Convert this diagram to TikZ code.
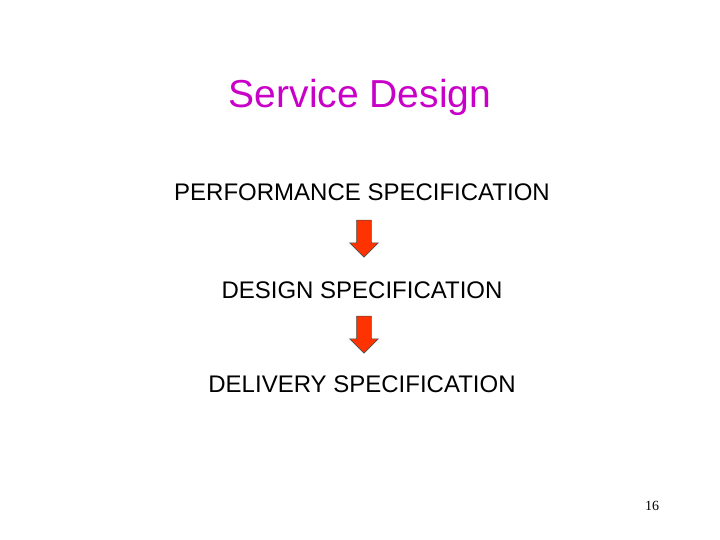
\documentclass[tikz,border=0pt]{standalone}
\usepackage{fontspec}
\setmainfont{Liberation Sans}
\newfontfamily\pagefont{Liberation Serif}
\usetikzlibrary{shapes.arrows}
\definecolor{titlepurple}{RGB}{200,0,200}
\definecolor{arrowred}{RGB}{255,51,0}

\begin{document}
\begin{tikzpicture}[x=1pt,y=-1pt]
        % Setup the styles for the texts and arrows
        \tikzset{spec style/.style={anchor=base, inner sep=0pt,
                                    font=\fontsize{24}{28}\selectfont},
                 down arrow/.style={single arrow,
                                    shape border rotate=270,
                                    draw=black!70, line width=0.6pt,
                                    fill=arrowred,
                                    inner sep=7pt,
                                    minimum height=37pt,
                                    minimum width=28pt,
                                    single arrow head extend=7pt}}
        \useasboundingbox (0,0) rectangle (720,540);

        % Title
        \node[anchor=base, inner sep=0pt, text=titlepurple,
              font=\fontsize{39}{44}\selectfont] at (360,108) (title) {Service Design};

        % Draw the specifications
        \node[spec style] at (362,201) (perf)     {PERFORMANCE SPECIFICATION};
        \node[spec style] at (362,298) (design)   {DESIGN SPECIFICATION};
        \node[spec style] at (362,392) (delivery) {DELIVERY SPECIFICATION};

        % Arrows between them
        \node[down arrow] at (364,235) (arrowa) {};
        \node[down arrow] at (364,331) (arrowb) {};

        % Page number
        \node[anchor=base, inner sep=0pt, font=\pagefont\fontsize{14}{16}\selectfont]
            at (652,510) (page) {16};
\end{tikzpicture}
\end{document}
